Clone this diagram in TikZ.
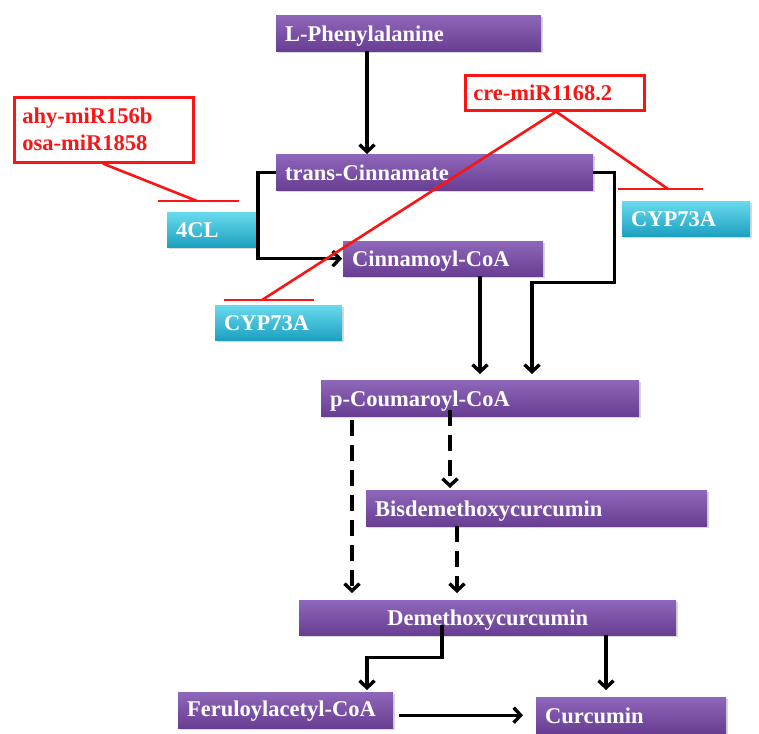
\documentclass[tikz,border=0pt]{standalone}
\usepackage{fontspec}
\setmainfont{Liberation Serif}
\usetikzlibrary{arrows.meta,shadows}
\definecolor{pTop}{RGB}{142,102,186}
\definecolor{pBot}{RGB}{104,62,146}
\definecolor{cTop}{RGB}{105,218,238}
\definecolor{cBot}{RGB}{28,160,192}
\definecolor{inhred}{RGB}{250,20,20}
\begin{document}
\begin{tikzpicture}[x=1pt,y=-1pt,
  lab/.style={font=\bfseries\fontsize{22.5}{27}\selectfont},
  base/.style={lab, anchor=north west, inner xsep=9pt, inner ysep=0pt,
    text height=17pt, text depth=1pt, align=left, minimum height=35pt,
    drop shadow={opacity=0.3, shadow xshift=1.5pt, shadow yshift=-2pt}},
  pbox/.style={base, top color=pTop, bottom color=pBot, text=white},
  cbox/.style={base, top color=cTop, bottom color=cBot, text=white},
  rbox/.style={lab, anchor=north west, inner xsep=8pt, inner ysep=0pt, align=left,
    draw=inhred, line width=2.6pt, fill=white, text=inhred},
  arr/.style={line width=3.4pt, -{Straight Barb[length=7pt,width=15pt]}},
  darr/.style={arr, dash pattern=on 16pt off 9pt},
  inh/.style={inhred, line width=2.6pt}]
\useasboundingbox (0,0) rectangle (759,733);
\clip (0,0) rectangle (759,733);
\fill[white] (0,0) rectangle (759,733);

% compounds
\node[pbox, text width=247pt, minimum height=36pt] (phe) at (276,15) {L-Phenylalanine};
\node[pbox, text width=299pt, minimum height=36pt] (tcin) at (276,154) {trans-Cinnamate};
\node[pbox, text width=182pt] (cnm) at (343,241) {Cinnamoyl-CoA};
\node[pbox, text width=300pt, minimum height=36pt] (pcou) at (321,380) {p-Coumaroyl-CoA};
\node[pbox, text width=323pt, minimum height=36pt] (bis) at (366,490) {Bisdemethoxycurcumin};
\node[pbox, text width=359pt, align=center] (dem) at (299,600) {Demethoxycurcumin};
\node[pbox, text width=197pt, minimum height=36pt, text height=15pt, text depth=3pt] (feru) at (178,692) {Feruloylacetyl-CoA};
\node[pbox, text width=172pt, minimum height=36pt] (cur) at (536,697) {Curcumin};

% enzymes
\node[cbox, text width=73pt] (cl4) at (167,212) {4CL};
\node[cbox, text width=109pt] (cypL) at (215,305) {CYP73A};
\node[cbox, text width=110pt] (cypR) at (622,201) {CYP73A};

% pathway arrows
\draw[arr] ([xshift=91pt]phe.south west) -- ([xshift=91pt]tcin.north west);
\draw[arr, shorten >=1pt] (tcin.west) -- ++(-18,0) |- (cnm.west);
\draw[arr, shorten >=6pt] (tcin.east) -- ++(21,0) -- ++(0,110) -| ([xshift=211pt]pcou.north west);
\draw[arr, shorten >=6pt] ([xshift=137pt]cnm.south west) -- ([xshift=159pt]pcou.north west);
\draw[darr, shorten <=4pt, shorten >=7pt] ([xshift=31pt]pcou.south west) -- ([xshift=53pt]dem.north west);
\draw[darr, shorten >=2pt] ([xshift=129pt,yshift=6pt]pcou.south west) -- ([xshift=84pt]bis.north west);
\draw[darr, shorten >=7pt] ([xshift=91pt]bis.south west) -- ([xshift=158pt]dem.north west);
\draw[arr, shorten >=2pt] ([xshift=143pt,yshift=10pt]dem.south west) -- ++(0,32) -| ([xshift=189pt]feru.north west);
\draw[arr, shorten >=7pt] ([xshift=307pt]dem.south west) -- ([xshift=70pt]cur.north west);
\draw[arr, shorten <=6pt, shorten >=13pt] (feru.east |- cur.west) -- (cur.west);

% miRNA boxes
\node[rbox, text width=163pt, minimum height=65pt] (ahy) at (13,96) {ahy-miR156b\\osa-miR1858};
\node[rbox, text width=163pt, minimum height=35pt, text height=17pt, text depth=1pt] (cre) at (464,74) {cre-miR1168.2};

% inhibition lines
\coordinate (ahyT) at (197,201);
\coordinate (creR) at (668,189);
\coordinate (creL) at (262,300);
\draw[inh] ([xshift=90pt]ahy.south west) -- (ahyT);
\draw[inh] ([xshift=-39pt]ahyT) -- ([xshift=42pt]ahyT);
\draw[inh] ([xshift=92pt]cre.south west) -- (creR);
\draw[inh] ([xshift=-50pt]creR) -- ([xshift=35pt]creR);
\draw[inh] ([xshift=92pt]cre.south west) -- (creL);
\draw[inh] ([xshift=-38pt]creL) -- ([xshift=52pt]creL);
\end{tikzpicture}
\end{document}
